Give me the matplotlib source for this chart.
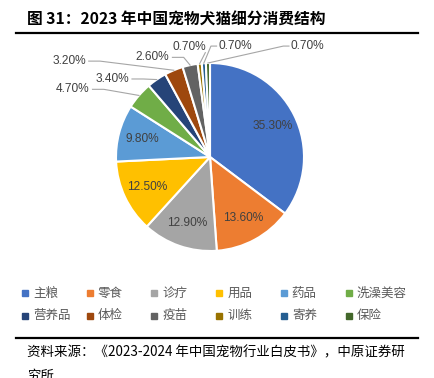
import numpy as np
import matplotlib
matplotlib.use('Agg')
import matplotlib.pyplot as plt
from matplotlib.lines import Line2D

plt.rcParams['font.family'] = ['Noto Sans CJK SC', 'DejaVu Sans']

# data
categories = ['主粮', '零食', '诊疗', '用品', '药品', '洗澡美容',
              '营养品', '体检', '疫苗', '训练', '寄养', '保险']
shares = [35.3, 13.6, 12.9, 12.5, 9.8, 4.7, 3.4, 3.2, 2.6, 0.7, 0.7, 0.7]
colors = ['#4472C4', '#ED7D31', '#A5A5A5', '#FFC000', '#5B9BD5', '#70AD47',
          '#264478', '#9E480E', '#636363', '#997300', '#255E91', '#43682B']

W, H = 434, 378
fig = plt.figure(figsize=(W / 100, H / 100), dpi=100)

# pie axes: centre at (210, 157) px, radius 94 px
cx, cy, r = 210, 157, 94
ax = fig.add_axes([0, 0, 1, 1])
wedges, _ = ax.pie(shares, colors=colors, startangle=90, counterclock=False,
                   wedgeprops=dict(edgecolor='white', linewidth=1.5))
ax.set_xlim(-cx / r, (W - cx) / r)
ax.set_ylim(-(H - cy) / r, cy / r)
ax.set_aspect('auto')
ax.axis('off')

lab_font = dict(family='Liberation Sans', fontsize=8.6, color='#404040')
n_inside = 5
# text spots for the small slices (data units), and which side the leader leaves
out_pos = [(-1.46, 0.72, 'r'), (-1.04, 0.83, 'r'), (-1.50, 1.02, 'r'),
           (-0.61, 1.06, 'r'), (-0.22, 1.17, 'b'), (0.27, 1.18, 'l'),
           (1.04, 1.18, 'l')]
for i, w in enumerate(wedges):
    mid = np.deg2rad((w.theta1 + w.theta2) / 2)
    txt = f'{shares[i]:.2f}%'
    if i < n_inside:
        ax.text(0.74 * np.cos(mid), 0.74 * np.sin(mid), txt,
                ha='center', va='center', **lab_font)
        continue
    tx, ty, side = out_pos[i - n_inside]
    ax.text(tx, ty, txt, ha='center', va='center', **lab_font)
    ex, ey = np.cos(mid), np.sin(mid)
    if side == 'r':
        sx = tx + 0.21
        xs, ys = [sx, sx + 0.12, ex], [ty, ty, ey]
    elif side == 'l':
        sx = tx - 0.20
        xs, ys = [sx, sx - 0.06, ex], [ty, ty, ey]
    else:
        xs, ys = [tx + 0.17, ex], [ty - 0.06, ey]
    ax.plot(xs, ys, color='#A6A6A6', lw=0.8)

# title
fig.text(27 / W, 1 - 20 / H, '图 31：2023 年中国宠物犬猫细分消费结构',
         fontsize=11.3, fontweight='bold', va='center', ha='left', color='black')
fig.add_artist(Line2D([16 / W, 418 / W], [1 - 33 / H, 1 - 33 / H],
                      color='black', lw=1.6))

# legend
for i, (name, c) in enumerate(zip(categories, colors)):
    x = (25 + 64.7 * (i % 6)) / W
    y = 1 - (293 + 22.5 * (i // 6)) / H
    fig.add_artist(Line2D([x], [y], marker='s', markersize=4, color=c,
                          linestyle='none'))
    fig.text(x + 8 / W, y, name, fontsize=9, color='#595959',
             va='center', ha='left')

# source
fig.add_artist(Line2D([16 / W, 418 / W], [1 - 338 / H, 1 - 338 / H],
                      color='black', lw=1.6))
fig.text(27 / W, 1 - 352 / H,
         '资料来源：《2023-2024 年中国宠物行业白皮书》，中原证券研',
         fontsize=9.7, va='center', ha='left', color='black')
fig.text(27 / W, 1 - 376 / H, '究所', fontsize=9.7, va='center', ha='left',
         color='black')

fig.savefig('out.png', dpi=100)
